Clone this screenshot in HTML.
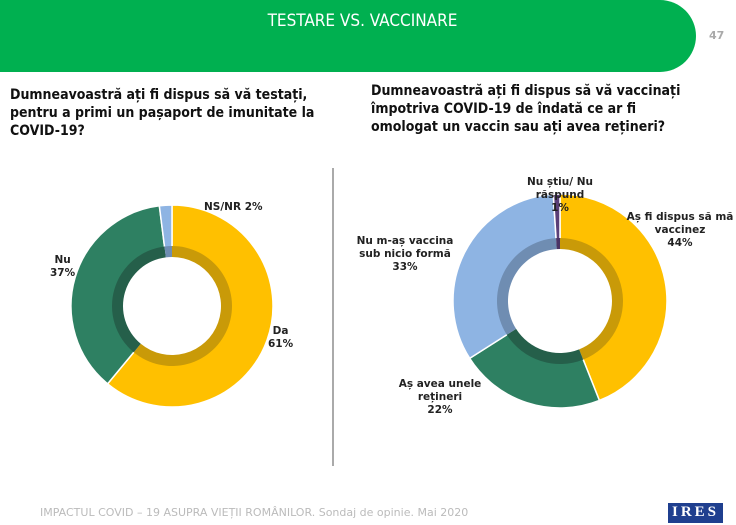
<!DOCTYPE html>
<html><head><meta charset="utf-8"><style>
body{margin:0;width:736px;height:525px;background:#fff;overflow:hidden;font-family:"DejaVu Sans","Liberation Sans",sans-serif;position:relative}
.q{position:absolute;font-weight:bold;font-size:13.5px;line-height:18px;color:#111}
.l{position:absolute;font-size:10.5px;font-weight:bold;color:#222;text-align:center;line-height:13px}
</style></head><body>
<svg width="736" height="525" style="position:absolute;left:0;top:0">
<path d="M0 0 H660 A36 36 0 0 1 660 72 H0 Z" fill="#00B050"/>
<line x1="333" y1="168" x2="333" y2="466" stroke="#555" stroke-width="1"/>
<g id="d1"></g><g id="d2"></g>
<rect x="668" y="503" width="55" height="20" fill="#1F3F8F"/>
</svg>
<div style="position:absolute;left:0;width:725px;top:11px;text-align:center;color:#fff;font-size:17px;font-family:'DejaVu Sans Condensed','DejaVu Sans',sans-serif">TESTARE VS. VACCINARE</div>
<div style="position:absolute;left:709px;top:29px;color:#aaa;font-size:11px;font-weight:bold">47</div>
<div class="q" style="left:10px;top:86px;width:325px;font-family:'DejaVu Sans Condensed','DejaVu Sans',sans-serif;font-size:14px">Dumneavoastră ați fi dispus să vă testați, pentru a primi un pașaport de imunitate la COVID-19?</div>
<div class="q" style="left:371px;top:82px;width:325px;font-family:'DejaVu Sans Condensed','DejaVu Sans',sans-serif;font-size:14px">Dumneavoastră ați fi dispus să vă vaccinați împotriva COVID-19 de îndată ce ar fi omologat un vaccin sau ați avea rețineri?</div>
<div class="l" style="left:204px;top:201px">NS/NR 2%</div>
<div class="l" style="left:50px;top:254px">Nu<br>37%</div>
<div class="l" style="left:268px;top:325px">Da<br>61%</div>
<div class="l" style="left:515px;top:176px;width:90px">Nu știu/ Nu<br>răspund<br>1%</div>
<div class="l" style="left:620px;top:211px;width:120px">Aș fi dispus să mă<br>vaccinez<br>44%</div>
<div class="l" style="left:350px;top:235px;width:110px">Nu m-aș vaccina<br>sub nicio formă<br>33%</div>
<div class="l" style="left:380px;top:378px;width:120px">Aș avea unele<br>rețineri<br>22%</div>
<div style="position:absolute;left:40px;top:506px;color:#bbb;font-size:11px">IMPACTUL COVID – 19 ASUPRA VIEȚII ROMÂNILOR. Sondaj de opinie. Mai 2020</div>
<div style="position:absolute;left:668px;top:504px;width:55px;text-align:center;color:#fff;font-family:'Liberation Serif',serif;font-weight:bold;font-size:15px;letter-spacing:3px">IRES</div>
<script>
function arc(cx,cy,r0,r1,a0,a1,fill,stroke){
 var f=function(r,a){a=(a-90)*Math.PI/180;return [cx+r*Math.cos(a),cy+r*Math.sin(a)]};
 var la=(a1-a0)>180?1:0,p1=f(r1,a0),p2=f(r1,a1),p3=f(r0,a1),p4=f(r0,a0);
 return '<path d="M'+p1+' A'+r1+' '+r1+' 0 '+la+' 1 '+p2+' L'+p3+' A'+r0+' '+r0+' 0 '+la+' 0 '+p4+' Z" fill="'+fill+'"'+(stroke?' stroke="#fff" stroke-width="1.5"':'')+'/>';
}
function donut(id,cx,cy,R,rr,rh,data){
 var s='',a=0;
 data.forEach(function(d){var b=a+d[0]*3.6;s+=arc(cx,cy,rh,R,a,b,d[1],1);a=b;});
 a=0;data.forEach(function(d){var b=a+d[0]*3.6;s+=arc(cx,cy,rh,rr,a,b,d[2],0);a=b;});
 document.getElementById(id).innerHTML=s;
}
donut('d1',172,306,101,60,49,[[61,'#FFC000','#C99A08'],[37,'#2E8062','#255F4A'],[2,'#8EB4E3','#6F8DB2']]);
donut('d2',560,301,107,63,52,[[44,'#FFC000','#C99A08'],[22,'#2E8062','#255F4A'],[33,'#8EB4E3','#6F8DB2'],[1,'#5A3F78','#4A3364']]);
</script>
</body></html>
